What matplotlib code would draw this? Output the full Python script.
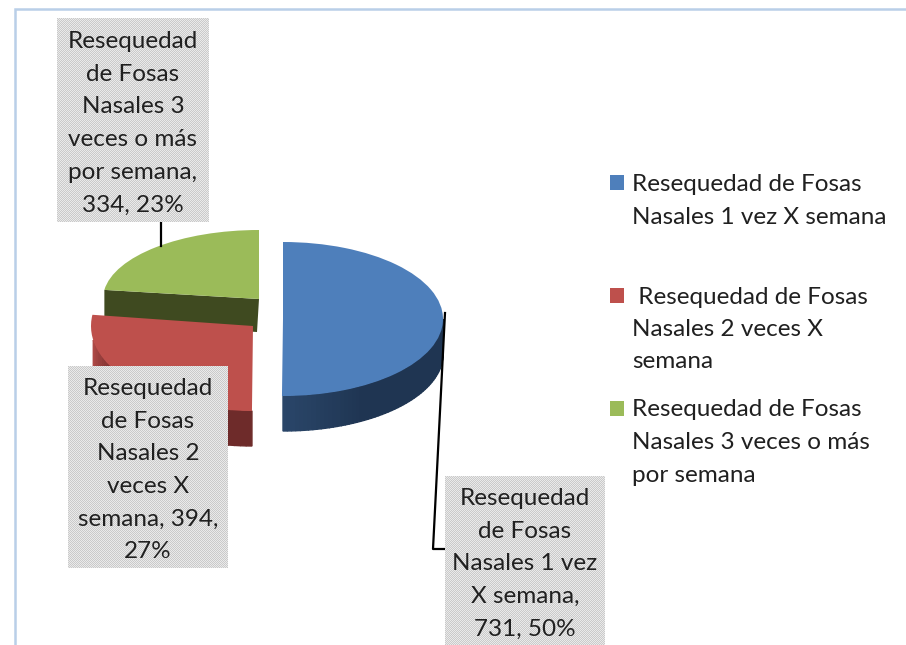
import numpy as np
import matplotlib
matplotlib.use('Agg')
import matplotlib.pyplot as plt
from matplotlib.patches import Wedge, Polygon, Rectangle
from matplotlib.transforms import Affine2D

plt.rcParams['font.family'] = ['Lato', 'DejaVu Sans']

# data
categories = ['Resequedad de Fosas Nasales 1 vez X semana',
              'Resequedad de Fosas Nasales 2 veces X semana',
              'Resequedad de Fosas Nasales 3 veces o más por semana']
counts = [731, 394, 334]
percents = [50, 27, 23]
label_lines = [['Resequedad', 'de Fosas', 'Nasales 1 vez', 'X semana,', '{n}, {p}%'],
               ['Resequedad', 'de Fosas', 'Nasales 2', 'veces X', 'semana, {n},', '{p}%'],
               ['Resequedad', 'de Fosas', 'Nasales 3', 'veces o más', 'por semana,', '{n}, {p}%']]
legend_lines = [['Resequedad de Fosas', 'Nasales 1 vez X semana'],
                [' Resequedad de Fosas', 'Nasales 2 veces X', 'semana'],
                ['Resequedad de Fosas', 'Nasales 3 veces o más', 'por semana']]

top_colors = ['#4e7fbb', '#be504c', '#9bbb59']
wall_colors = [('#2a4669', '#1f3552'), ('#b04a47', '#6e2b2a')]
cut_color = '#3f4a20'

# each slice has its own centre and radii, the chart is drawn in perspective
centers = [(283, 319), (253, 326), (259, 299)]
radii = [(160, 77), (162, 85), (156, 69)]
depths = [35, 35, 33]

label_boxes = [(445, 476, 160, 169), (68, 366, 160, 202), (57, 18, 152, 204)]
label_base = [505, 395, 48]
legend_base = [191, 303.5, 416.5]
legend_box_y = [175, 288, 401]
label_h = 32.7
legend_h = 32.5
font_size = 17.5
text_color = '#202020'

fig = plt.figure(figsize=(9.06, 6.45), dpi=100)
ax = fig.add_axes([0, 0, 1, 1])

# chart frame
ax.plot([15, 15, 906], [645, 9, 9], color='#b9cfe8', lw=1.8, solid_joinstyle='miter')


def ell(i, deg):
    a = np.radians(deg)
    cx, cy = centers[i]
    rx, ry = radii[i]
    return cx + rx * np.cos(a), cy - ry * np.sin(a)


def mix(c1, c2, f):
    a = np.array(matplotlib.colors.to_rgb(c1))
    b = np.array(matplotlib.colors.to_rgb(c2))
    return tuple(a + (b - a) * f)


# slice angles, clockwise from 12 o'clock like the office chart
total = sum(counts)
ends = 90 - np.cumsum(counts) / total * 360
starts = np.r_[90, ends[:-1]]
# visible part of the outer wall for blue and red
wall_angles = [np.linspace(starts[0] - 180, starts[0] - 90, 60),
               np.linspace(starts[1] - 80, starts[1], 40)]

for i in [2, 1, 0]:
    th_hi, th_lo = starts[i], ends[i]
    d = depths[i]
    # flat cut face of the green slice
    if i == 2:
        x0, y0 = ell(i, th_hi)
        x1, y1 = centers[i]
        ax.add_patch(Polygon([(x0, y0), (x1, y1), (x1 - 2, y1 + d), (x0, y0 + d)],
                             facecolor=cut_color, edgecolor='none', zorder=2))
    else:
        angs = wall_angles[i]
        for k in range(len(angs) - 1):
            xa, ya = ell(i, angs[k])
            xb, yb = ell(i, angs[k + 1])
            f = k / (len(angs) - 2)
            col = mix(wall_colors[i][0], wall_colors[i][1], min(f * 3, 1))
            ax.add_patch(Polygon([(xa, ya), (xb, yb), (xb, yb + d), (xa, ya + d)],
                                 facecolor=col, edgecolor=col, lw=1.0, zorder=2))
    # top face
    tr = Affine2D().scale(radii[i][0], -radii[i][1]).translate(*centers[i]) + ax.transData
    ax.add_patch(Wedge((0, 0), 1, th_lo, th_hi, facecolor=top_colors[i],
                       edgecolor='none', transform=tr, zorder=3))

# leader lines
ax.plot([161, 161], [222, 246], color='black', lw=1.6, zorder=5)
ax.plot([445, 433, 445], [313, 549, 549], color='black', lw=1.6, zorder=5)

# data labels, the grey fill is a fine dither in the original
for i in range(3):
    x, y, w, h = label_boxes[i]
    yy, xx = np.indices((h, w))
    ax.imshow((xx + yy) % 2, extent=(x, x + w, y + h, y), cmap='gray', vmin=-6.5, vmax=1.7,
              interpolation='nearest', aspect='auto', zorder=6)
    for n, line in enumerate(label_lines[i]):
        ax.text(x + w / 2, label_base[i] + n * label_h, line.format(n=counts[i], p=percents[i]),
                ha='center', va='baseline', fontsize=font_size, color=text_color, zorder=7)

# legend
for i in range(3):
    ax.add_patch(Rectangle((610, legend_box_y[i]), 14, 15, facecolor=top_colors[i],
                           edgecolor='none', zorder=6))
    for n, line in enumerate(legend_lines[i]):
        ax.text(632, legend_base[i] + n * legend_h, line, ha='left', va='baseline',
                fontsize=font_size, color=text_color, zorder=7)

ax.set_xlim(0, 906)
ax.set_ylim(645, 0)
ax.axis('off')

fig.savefig('out.png', dpi=100)
